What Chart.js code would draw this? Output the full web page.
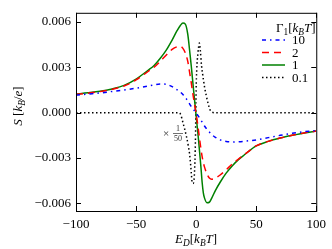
<!DOCTYPE html>
<html>
<head>
<meta charset="utf-8">
<script src="https://cdn.jsdelivr.net/npm/chart.js@4.4.1/dist/chart.umd.min.js"></script>
<style>
  html, body { margin: 0; padding: 0; background: #fff; }
  #wrap { width: 332px; height: 249px; }
</style>
</head>
<body>
<div id="wrap"><canvas id="chart"></canvas></div>
<script>
// E_D grid (k_B T) shared by the three broad curves
const energies = [-100, -90, -80, -70, -60, -50, -40, -35, -30, -25, -20, -16, -13, -11, -9, -7, -5, -4, -3, -2, -1,
  0, 1, 2, 3, 4, 5, 6, 7, 9, 11, 13, 16, 20, 25, 30, 35, 40, 50, 60, 70, 80, 90, 100];

const seebeck10 = [0.00116, 0.00123, 0.00130, 0.00140, 0.00150, 0.00162, 0.00176, 0.00184, 0.00190, 0.00188, 0.00172,
  0.00152, 0.00135, 0.00120, 0.00100, 0.00078, 0.00052, 0.00040, 0.00030, 0.00020, 0.00008,
  -0.00004, -0.00014, -0.00025, -0.00037, -0.00050, -0.00062, -0.00075, -0.00088, -0.00110, -0.00128, -0.00145,
  -0.00163, -0.00180, -0.00190, -0.00194, -0.00192, -0.00189, -0.00180, -0.00165, -0.00150, -0.00136, -0.00126, -0.00118];

const seebeck2 = [0.00121, 0.00129, 0.00139, 0.00154, 0.00176, 0.00216, 0.00272, 0.00300, 0.00338, 0.00380, 0.00418,
  0.00435, 0.00438, 0.00425, 0.00395, 0.00340, 0.00245, 0.00195, 0.00140, 0.00090, 0.00040,
  -0.00010, -0.00060, -0.00120, -0.00180, -0.00240, -0.00290, -0.00330, -0.00360, -0.00405, -0.00432, -0.00440,
  -0.00432, -0.00412, -0.00378, -0.00340, -0.00308, -0.00278, -0.00220, -0.00190, -0.00168, -0.00150, -0.00134, -0.00122];

const seebeck1 = [0.00123, 0.00131, 0.00141, 0.00157, 0.00180, 0.00222, 0.00280, 0.00312, 0.00358, 0.00412, 0.00480,
  0.00540, 0.00578, 0.00592, 0.00585, 0.00520, 0.00380, 0.00305, 0.00222, 0.00140, 0.00060,
  -0.00020, -0.00100, -0.00180, -0.00270, -0.00360, -0.00460, -0.00530, -0.00565, -0.00595, -0.00592, -0.00565,
  -0.00515, -0.00460, -0.00400, -0.00352, -0.00312, -0.00280, -0.00220, -0.00190, -0.00168, -0.00150, -0.00134, -0.00122];

// narrow resonance, shown scaled by 1/50
const energiesNarrow = [-100, -20, -15, -13, -11, -9.5, -8, -6.5, -5.5, -4.5, -4, -3.3, -2.6, -1.6, -1, -0.5,
  0, 0.5, 1, 1.5, 2, 2.7, 3.5, 4.5, 5.5, 7, 8.5, 10, 11.5, 13, 15, 20, 100];
const seebeck01 = [0, 0, 0, -0.0001, -0.00065, -0.0011, -0.0016, -0.0022, -0.0027, -0.0035, -0.0040, -0.00462, -0.00468,
  -0.0043, -0.0032, -0.0015, 0.0015, 0.0028, 0.0035, 0.0039, 0.0043, 0.0046, 0.0041, 0.0031, 0.0025, 0.0017,
  0.0011, 0.0006, 0.0002, 0.00005, 0, 0, 0];

const seriesLabels = ['10', '2', '1', '0.1'];
const xTicks = [-100, -50, 0, 50, 100];
const xTickLabels = ['\u2212100', '\u221250', '0', '50', '100'];
const yTicks = [-0.006, -0.003, 0, 0.003, 0.006];
const yTickLabels = ['\u22120.006', '\u22120.003', '0.000', '0.003', '0.006'];

const serif = "'Liberation Serif', 'DejaVu Serif', serif";
const pts = (xs, ys) => xs.map((x, i) => ({ x, y: ys[i] }));

function drawRich(ctx, parts, x, y, size, align) {
  const fontFor = p => (p.it ? 'italic ' : '') + (p.sub ? size * 0.72 : size) + 'px ' + serif;
  let w = 0;
  for (const p of parts) { ctx.font = fontFor(p); w += ctx.measureText(p.t).width; }
  let cx = align === 'center' ? x - w / 2 : x;
  ctx.textAlign = 'left';
  ctx.textBaseline = 'alphabetic';
  for (const p of parts) {
    ctx.font = fontFor(p);
    ctx.fillText(p.t, cx, p.sub ? y + size * 0.22 : y);
    cx += ctx.measureText(p.t).width;
  }
}

const decor = {
  id: 'decor',
  afterDraw(chart) {
    const { ctx, chartArea: a, scales: { x, y } } = chart;
    ctx.save();
    ctx.strokeStyle = '#000';
    ctx.lineWidth = 1;
    ctx.strokeRect(a.left + 0.5, a.top + 0.5, a.right - a.left, a.bottom - a.top);
    ctx.beginPath();
    for (const v of xTicks) {
      const px = Math.round(x.getPixelForValue(v)) + 0.5;
      ctx.moveTo(px, a.bottom); ctx.lineTo(px, a.bottom - 5);
      ctx.moveTo(px, a.top); ctx.lineTo(px, a.top + 5);
    }
    for (const v of yTicks) {
      const py = Math.round(y.getPixelForValue(v)) + 0.5;
      ctx.moveTo(a.left, py); ctx.lineTo(a.left + 5, py);
      ctx.moveTo(a.right, py); ctx.lineTo(a.right - 5, py);
    }
    ctx.stroke();

    ctx.fillStyle = '#000';
    // x axis title
    drawRich(ctx, [{ t: 'E', it: 1 }, { t: 'D', it: 1, sub: 1 }, { t: '[' }, { t: 'k', it: 1 },
      { t: 'B', it: 1, sub: 1 }, { t: 'T', it: 1 }, { t: ']' }], (a.left + a.right) / 2, 243, 13, 'center');
    // y axis title
    ctx.save();
    ctx.translate(22, 106);
    ctx.rotate(-Math.PI / 2);
    drawRich(ctx, [{ t: 'S', it: 1 }, { t: ' [' }, { t: 'k', it: 1 }, { t: 'B', it: 1, sub: 1 },
      { t: '/' }, { t: 'e', it: 1 }, { t: ']' }], 0, 0, 13, 'center');
    ctx.restore();

    // legend
    drawRich(ctx, [{ t: '\u0393' }, { t: '1', sub: 1 }, { t: '[' }, { t: 'k', it: 1 },
      { t: 'B', it: 1, sub: 1 }, { t: 'T', it: 1 }, { t: ']' }], 276, 32, 13, 'left');
    chart.data.datasets.forEach((ds, i) => {
      const ly = 40 + i * 12.5;
      ctx.save();
      ctx.strokeStyle = ds.borderColor;
      ctx.lineWidth = ds.borderWidth;
      ctx.setLineDash(ds.borderDash || []);
      ctx.beginPath();
      ctx.moveTo(262, ly); ctx.lineTo(285, ly);
      ctx.stroke();
      ctx.restore();
      ctx.font = '13px ' + serif;
      ctx.textBaseline = 'middle';
      ctx.textAlign = 'left';
      ctx.fillText(ds.label, 292, ly + 1);
    });

    // scale note for the narrow curve
    ctx.fillStyle = '#333';
    ctx.strokeStyle = '#333';
    ctx.font = '11px ' + serif;
    ctx.textAlign = 'center';
    ctx.textBaseline = 'middle';
    ctx.fillText('\u00d7', 166, 134);
    ctx.font = '8px ' + serif;
    ctx.textBaseline = 'alphabetic';
    ctx.fillText('1', 178, 131);
    ctx.fillText('50', 178, 141);
    ctx.lineWidth = 0.7;
    ctx.beginPath();
    ctx.moveTo(173, 133.5); ctx.lineTo(183, 133.5);
    ctx.stroke();
    ctx.restore();
  }
};

Chart.defaults.color = '#000';
Chart.defaults.font.family = serif;

new Chart(document.getElementById('chart'), {
  type: 'line',
  data: {
    datasets: [
      { label: seriesLabels[0], data: pts(energies, seebeck10), borderColor: '#0000ff', borderWidth: 1.5, borderDash: [4, 4, 1.5, 4] },
      { label: seriesLabels[1], data: pts(energies, seebeck2), borderColor: '#ff0000', borderWidth: 1.5, borderDash: [7, 5] },
      { label: seriesLabels[2], data: pts(energies, seebeck1), borderColor: '#008000', borderWidth: 1.5 },
      { label: seriesLabels[3], data: pts(energiesNarrow, seebeck01), borderColor: '#000000', borderWidth: 1.5, borderDash: [1.5, 2.5] }
    ]
  },
  options: {
    responsive: true,
    maintainAspectRatio: false,
    animation: false,
    layout: { padding: { top: 9, right: 14, left: 0, bottom: 0 } },
    elements: {
      point: { radius: 0, hoverRadius: 0 },
      line: { cubicInterpolationMode: 'monotone', fill: false }
    },
    plugins: { legend: { display: false }, tooltip: { enabled: false } },
    scales: {
      x: {
        type: 'linear', min: -100, max: 100,
        afterBuildTicks: s => { s.ticks = xTicks.map(value => ({ value })); },
        afterFit: s => { s.height = 38; },
        grid: { display: false, drawTicks: false },
        border: { display: false },
        ticks: { padding: 6, font: { size: 13 }, maxRotation: 0, callback: (v, i) => xTickLabels[i] }
      },
      y: {
        type: 'linear', min: -0.0065, max: 0.0066,
        afterBuildTicks: s => { s.ticks = yTicks.map(value => ({ value })); },
        afterFit: s => { s.width = 76; },
        grid: { display: false, drawTicks: false },
        border: { display: false },
        ticks: { padding: 5, font: { size: 13 }, callback: (v, i) => yTickLabels[i] }
      }
    }
  },
  plugins: [decor]
});
</script>
</body>
</html>
